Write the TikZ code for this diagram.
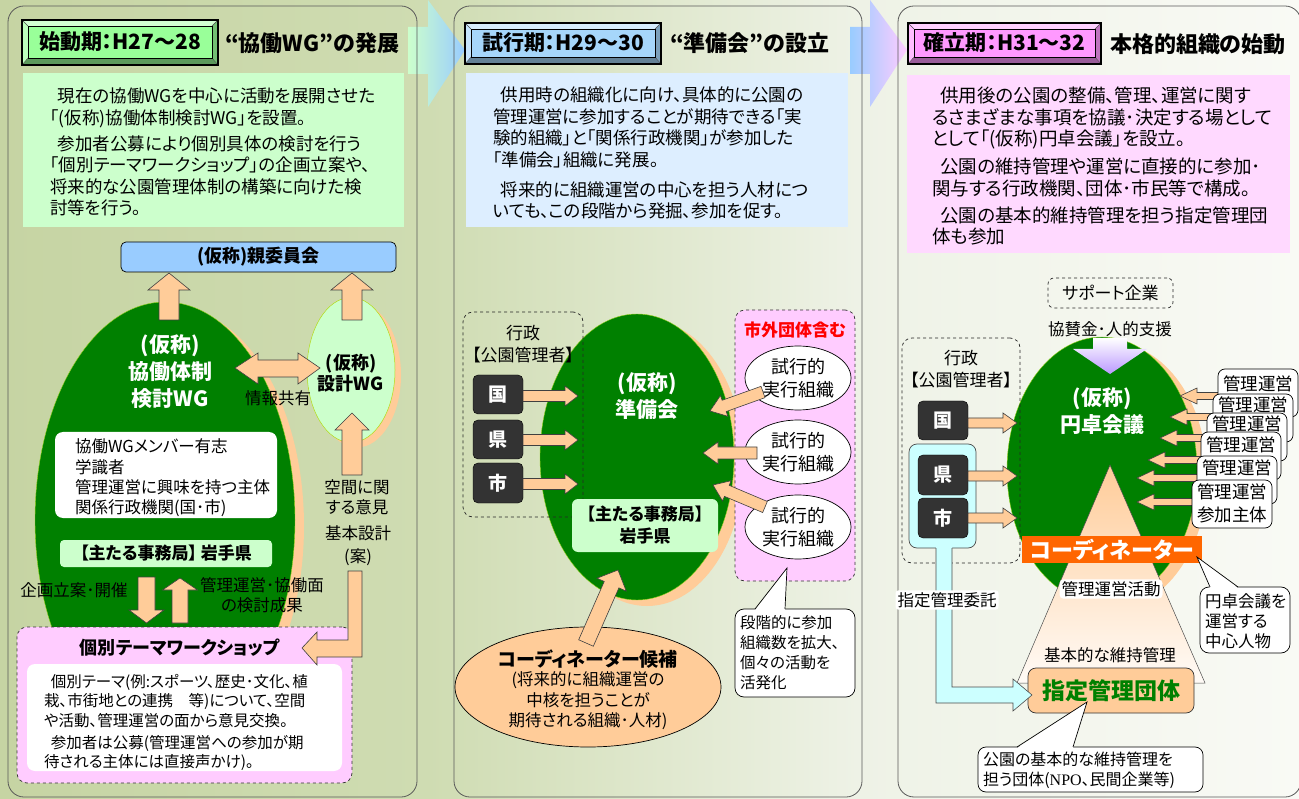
\documentclass[tikz,border=0pt]{standalone}
\usepackage{fontspec}
\setmainfont{Noto Sans CJK JP}[RawFeature=+palt]
\newfontfamily\npofont{Liberation Serif}
\usetikzlibrary{shapes.geometric}
\definecolor{dg}{HTML}{008000}
\definecolor{peach}{HTML}{FFCC99}
\definecolor{lg}{HTML}{CCFFCC}
\definecolor{lb}{HTML}{99CCFF}
\definecolor{pb}{HTML}{DDEEFF}
\definecolor{pk}{HTML}{FFCCFF}
\definecolor{pk2}{HTML}{FFD9FF}
\definecolor{dk}{HTML}{333333}
\definecolor{org}{HTML}{FF6600}
\definecolor{cy}{HTML}{CCFFFF}
\definecolor{vio}{HTML}{BB99FF}
\definecolor{hg}{HTML}{99FF99}
\definecolor{hb}{HTML}{A6D6FA}
\definecolor{hp}{HTML}{FF99FF}
\definecolor{bga}{RGB}{198,212,163}
\definecolor{bgb}{RGB}{207,220,178}
\definecolor{bgc}{RGB}{238,242,230}
\definecolor{bgd}{RGB}{249,250,245}
\pgfdeclarehorizontalshading{bgsh}{100bp}{color(0bp)=(bga); color(25bp)=(bga); color(41.5bp)=(bgb); color(58bp)=(bgc); color(75bp)=(bgd); color(100bp)=(bgd)}
\newcommand\fsz[2]{\fontsize{#1pt}{#2pt}\selectfont}
% block arrow: [style] x1 y1 x2 y2 shaft-halfwidth head-halfwidth head-length
\newcommand\barrow[8][]{%
 \pgfmathsetmacro\bdx{(#4)-(#2)}%
 \pgfmathsetmacro\bdy{(#5)-(#3)}%
 \pgfmathsetmacro\blen{veclen(\bdx,\bdy)}%
 \pgfmathsetmacro\bang{atan2(-\bdy,\bdx)}%
 \pgfmathsetmacro\bhb{\blen-(#8)}%
 \draw[pa,#1,shift={(#2,#3)},rotate=\bang] (0,-#6) -- (\bhb,-#6) -- (\bhb,-#7) -- (\blen,0) -- (\bhb,#7) -- (\bhb,#6) -- (0,#6) -- cycle;}
% header box: name x1 y1 x2 y2 colour text
\newcommand\hdr[7]{%
 \fill[#6!45!white] (#2,#3) rectangle (#4,#5);
 \fill[#6!60!black] (#2,#5) -- (#4,#5) -- (#4-6,#5-7) -- (#2+6,#5-7) -- cycle;
 \fill[#6!75!black] (#4,#3) -- (#4,#5) -- (#4-6,#5-7) -- (#4-6,#3+6) -- cycle;
 \fill[#6!65!white] (#2,#3) -- (#2+6,#3+6) -- (#2+6,#5-7) -- (#2,#5) -- cycle;
 \draw[black!70,line width=0.4pt] (#2,#3) -- (#2+6,#3+6) (#4,#3) -- (#4-6,#3+6) (#2,#5) -- (#2+6,#5-7) (#4,#5) -- (#4-6,#5-7);
 \draw[fill=#6,line width=0.6pt] (#2+6,#3+6) rectangle (#4-6,#5-7);
 \draw[line width=1.1pt] (#2,#3) rectangle (#4,#5);
 \node[font=\bfseries\fsz{21}{24}] (#1) at ({(#2+#4)/2},{(#3+#5)/2-0.5}) {#7};}
% callout pointer: x1 x2 ytop tipx tipy
\newcommand\cptr[5]{%
 \fill[white] (#1,#3+1.2) -- (#4,#5) -- (#2,#3+1.2) -- cycle;
 \draw[black,line width=0.7pt] (#1,#3) -- (#4,#5) -- (#2,#3);}
\begin{document}
\begin{tikzpicture}[x=1pt,y=-1pt,
 every node/.style={inner sep=0pt,outer sep=0pt},
 tb/.style={align=left,anchor=north west},
 pa/.style={fill=peach,draw=black!75,line width=0.6pt},
 wt/.style={text=white,font=\bfseries\fsz{21}{27},align=center},
 dkbox/.style={fill=dk,draw=black,rounded corners=5pt,minimum width=50pt,minimum height=39pt,text=white,font=\bfseries\fsz{19}{20}},
 dashbox/.style={draw=black!85,dashed,line width=0.7pt,rounded corners=10pt},
 panel/.style={draw=black!65,line width=0.8pt,rounded corners=16pt},
 mgbox/.style={fill=white,draw=black,line width=0.7pt,rounded corners=7pt,minimum width=80pt,minimum height=48pt},
 mgtxt/.style={font=\fsz{17.5}{23},align=center},
 callout/.style={fill=white,draw=black,line width=0.7pt,rounded corners=9pt},
 lab/.style={font=\fsz{16.5}{20},align=center}]
\useasboundingbox (0,0) rectangle (1299,799);
\shade[shading=bgsh] (0,0) rectangle (1299,799);
% arrows between phases
\shade[left color=lg,right color=lb] (408,27) -- (428,27) -- (428,0) -- (465,50) -- (428,107) -- (428,74) -- (408,74) -- cycle;
\shade[left color=lb,right color=pk] (850,27) -- (870,27) -- (870,0) -- (907,50) -- (870,107) -- (870,74) -- (850,74) -- cycle;
% panels
\draw[panel] (8,6) rectangle (417,797);
\draw[panel] (454,6) rectangle (862,797);
\draw[panel] (898,6) rectangle (1301,797);

% ================= panel 1
\hdr{h1}{22}{20}{218}{65}{hg}{始動期：H27～28}
\node[anchor=west,font=\bfseries\fsz{22}{24}] (t1) at (225,43) {“協働WG”の発展};
\node[fill=lg,minimum width=381pt,minimum height=154pt] (d1) at (213.5,150) {};
\node[tb,font=\fsz{17.5}{21.5}] (d1t) at (50,88) {\hspace*{0.45em}現在の協働WGを中心に活動を展開させた\\「(仮称)協働体制検討WG」を設置。\\[4.5pt]\hspace*{0.45em}参加者公募により個別具体の検討を行う\\「個別テーマワークショップ」の企画立案や、\\将来的な公園管理体制の構築に向けた検\\討等を行う。};
\node[fill=lb,draw=black,line width=0.7pt,rounded corners=5pt,minimum width=275pt,minimum height=30pt,font=\bfseries\fsz{18}{20}] (oya) at (258.5,257) {(仮称)親委員会};
\node[ellipse,fill=peach,minimum width=260pt,minimum height=436pt] (k1s) at (174,526) {};
\node[ellipse,fill=dg,draw=yellow!60!green,line width=0.4pt,minimum width=260pt,minimum height=436pt] (k1) at (165,520) {};
\node[wt] (k1t) at (170,372) {(仮称)\\協働体制\\検討WG};
\node[ellipse,fill=peach,minimum width=88pt,minimum height=145pt] (sks) at (357,375) {};
\node[ellipse,fill=lg,draw=yellow!70!green,line width=0.5pt,minimum width=88pt,minimum height=145pt] (sk) at (351,370) {};
\node[font=\bfseries\fsz{18}{21},align=center] (skt) at (351,373) {(仮称)\\設計WG};
\barrow{169}{320}{169}{273}{10}{21}{17}
\barrow{352}{320}{352}{273}{10}{21}{17}
\barrow{352}{475}{352}{413}{10}{17}{17}
\draw[pa] (235,368) -- (258,353) -- (258,360) -- (298,360) -- (298,353) -- (320,368) -- (298,384) -- (298,377) -- (258,377) -- (258,384) -- cycle;
\node[lab] (jk) at (278,398) {情報共有};
\node[fill=white,rounded corners=8pt,minimum width=222pt,minimum height=86pt] (mem) at (166,475) {};
\node[tb,font=\fsz{16.5}{20.3}] (memt) at (75,439) {協働WGメンバー有志\\学識者\\管理運営に興味を持つ主体\\関係行政機関(国･市)};
\node[fill=lg,rounded corners=4pt,minimum width=212pt,minimum height=27pt,font=\bfseries\fsz{17}{20}] (jm1) at (166,553.5) {【主たる事務局】 岩手県};
\barrow{146.5}{577}{146.5}{623}{8.5}{17.5}{13}
\barrow{180}{623}{180}{578}{8}{17.5}{12}
\node[lab] (kk) at (74,590) {企画立案･開催};
\node[lab] (ks) at (262,595) {管理運営･協働面\\の検討成果};
\node[lab] (ki) at (357,497) {空間に関\\する意見};
\node[font=\fsz{16.5}{23},align=center] (kb) at (358,546) {基本設計\\(案)};
\node[fill=pk,draw=black!80,dashed,line width=0.7pt,rounded corners=10pt,minimum width=335pt,minimum height=156pt] (ws) at (184.5,705) {};
\node[font=\bfseries\fsz{18}{20}] (wst) at (180,648) {個別テーマワークショップ};
\node[fill=white,rounded corners=8pt,minimum width=315pt,minimum height=107pt] (wsi) at (184.5,717.5) {};
\node[tb,font=\fsz{15.5}{19.5}] (wsit) at (44,674) {\hspace*{0.45em}個別テーマ(例:スポーツ、歴史･文化、植\\栽、市街地との連携　等)について、空間\\や活動、管理運営の面から意見交換。\\[2.5pt]\hspace*{0.45em}参加者は公募(管理運営への参加が期\\待される主体には直接声かけ)。};
\draw[pa] (348,571) -- (362,571) -- (362,657) -- (317,657) -- (317,665) -- (302,648) -- (317,632) -- (317,640) -- (348,640) -- cycle;

% ================= panel 2
\hdr{h2}{465}{23}{661}{64}{hb}{試行期：H29～30}
\node[anchor=west,font=\bfseries\fsz{22}{24}] (t2) at (670,43) {“準備会”の設立};
\node[fill=pb,minimum width=382pt,minimum height=154pt] (d2) at (657,150) {};
\node[tb,font=\fsz{17.5}{21.5}] (d2t) at (493,87) {\hspace*{0.45em}供用時の組織化に向け、具体的に公園の\\管理運営に参加することが期待できる「実\\験的組織」と「関係行政機関」が参加した\\「準備会」組織に発展。\\[8.5pt]\hspace*{0.45em}将来的に組織運営の中心を担う人材につ\\いても、この段階から発掘、参加を促す。};
\node[ellipse,fill=peach,minimum width=194pt,minimum height=286pt] (jbs) at (647,463) {};
\node[ellipse,fill=dg,draw=yellow!60!green,line width=0.4pt,minimum width=194pt,minimum height=286pt] (jb) at (637,457) {};
\node[wt] (jbt) at (647,396.5) {(仮称)\\準備会};
\node[dashbox,minimum width=120pt,minimum height=205pt] (g2) at (523,414.5) {};
\node[font=\fsz{17}{22},align=center] (g2t) at (523,344.5) {行政\\【公園管理者】};
\node[dkbox] (koku2) at (498,394.5) {国};
\node[dkbox] (ken2) at (498,439.5) {県};
\node[dkbox,minimum height=40pt] (shi2) at (498,483) {市};
\barrow{523}{396}{578}{396}{5.5}{10}{13}
\barrow{523}{440}{578}{440}{5.5}{10}{13}
\barrow{523}{484}{578}{484}{5.5}{10}{13}
\node[fill=lg,rounded corners=6pt,minimum width=146pt,minimum height=53pt,font=\bfseries\fsz{17}{22},align=center] (jm2) at (645,525.5) {【主たる事務局】\\岩手県};
\node[fill=pk,draw=black!80,dashed,line width=0.7pt,rounded corners=10pt,minimum width=120pt,minimum height=271pt] (gb) at (795,445.5) {};
\node[text=red,font=\bfseries\fsz{17}{20}] (gbt) at (795,330) {市外団体含む};
\node[ellipse,fill=white,draw=black,line width=0.7pt,minimum width=106pt,minimum height=64pt,font=\fsz{18}{23},align=center] (tr1) at (798,378) {試行的\\実行組織};
\node[ellipse,fill=white,draw=black,line width=0.7pt,minimum width=106pt,minimum height=64pt,font=\fsz{18}{23},align=center] (tr2) at (798,452) {試行的\\実行組織};
\node[ellipse,fill=white,draw=black,line width=0.7pt,minimum width=106pt,minimum height=64pt,font=\fsz{18}{23},align=center] (tr3) at (798,527) {試行的\\実行組織};
\barrow{763}{392}{710}{411}{6}{11}{15}
\barrow{757}{453}{703}{453}{6}{11}{15}
\barrow{765}{507}{713}{485}{6}{11}{15}
\node[callout,minimum width=120pt,minimum height=88pt] (c2) at (795,653) {};
\cptr{755}{785}{609}{787}{568}
\node[tb,font=\fsz{15.5}{20}] (c2t) at (740,615) {段階的に参加\\組織数を拡大、\\個々の活動を\\活発化};
\node[ellipse,fill=peach,draw=black,line width=0.7pt,minimum width=266pt,minimum height=120pt] (cc) at (588,687) {};
\barrow{586}{643}{618}{570}{8}{16}{16}
\node[font=\bfseries\fsz{19}{22}] (cct) at (588,659) {コーディネーター候補};
\node[font=\fsz{16.5}{20.5},align=center] (ccs) at (588,701) {(将来的に組織運営の\\中核を担うことが\\期待される組織･人材)};

% ================= panel 3
\hdr{h3}{908}{23}{1101}{64}{hp}{確立期：H31～32}
\node[anchor=west,font=\bfseries\fsz{22}{24}] (t3) at (1110,44) {本格的組織の始動};
\node[fill=pk2,minimum width=383pt,minimum height=178pt] (d3) at (1098.5,164) {};
\node[tb,font=\fsz{18.5}{21.5}] (d3t) at (932,87) {\hspace*{0.45em}供用後の公園の整備、管理、運営に関す\\るさまざまな事項を協議･決定する場として\\として「(仮称)円卓会議」を設立。\\[6.5pt]\hspace*{0.45em}公園の維持管理や運営に直接的に参加･\\関与する行政機関、団体･市民等で構成。\\[5.5pt]\hspace*{0.45em}公園の基本的維持管理を担う指定管理団\\体も参加};
\node[dashbox,rounded corners=6pt,minimum width=125pt,minimum height=30pt,font=\fsz{17}{20}] (sup) at (1110.5,293) {サポート企業};
\node[lab] (supt) at (1110,329) {協賛金･人的支援};
\node[ellipse,fill=peach,minimum width=190pt,minimum height=266pt] (ens) at (1112,476) {};
\node[ellipse,fill=dg,draw=yellow!60!green,line width=0.4pt,minimum width=190pt,minimum height=266pt] (en) at (1102,470) {};
\shade[top color=white,bottom color=vio] (1093,338) -- (1127,338) -- (1127,349) -- (1147,349) -- (1110,374) -- (1073,349) -- (1093,349) -- cycle;
\node[wt] (ent) at (1102,411) {(仮称)\\円卓会議};
\node[dashbox,minimum width=118pt,minimum height=225pt] (g3) at (961,450.5) {};
\node[font=\fsz{17}{22},align=center] (g3t) at (961,369.5) {行政\\【公園管理者】};
\node[fill=cy,draw=black!70,line width=0.7pt,rounded corners=8pt,minimum width=67pt,minimum height=104pt] (cyb) at (942.5,496) {};
\node[dkbox] (koku3) at (943,420.5) {国};
\node[dkbox,minimum height=40pt] (ken3) at (943,475) {県};
\node[dkbox,minimum height=40pt] (shi3) at (943,518) {市};
\barrow{968}{423}{1017}{423}{5}{10}{14}
\barrow{968}{476}{1017}{476}{5}{10}{14}
\barrow{968}{518}{1017}{518}{5}{10}{14}
\shadedraw[top color=peach,bottom color=peach!8!white,draw=black!70,line width=0.5pt] (1110,465) -- (1205,683) -- (1017,683) -- cycle;
\node[fill=org,minimum width=180pt,minimum height=27pt,text=white,font=\bfseries\fsz{22}{24}] (co) at (1112,549.5) {コーディネーター};
\node[fill=white,rounded corners=4pt,inner sep=2pt,font=\fsz{16.5}{19}] (kua) at (1111,589) {管理運営活動};
\node[font=\fsz{16.5}{19}] (kih) at (1110,655) {基本的な維持管理};
\node[fill=peach,draw=black!80,line width=0.7pt,rounded corners=8pt,minimum width=166pt,minimum height=45pt,text=dg,font=\bfseries\fsz{23}{25}] (sh) at (1111,690.5) {指定管理団体};
\fill[cy] (936,546) -- (952,546) -- (952,687) -- (1013,687) -- (1013,679) -- (1032,695) -- (1013,711) -- (1013,703) -- (936,703) -- cycle;
\draw[black!70,line width=0.6pt] (952,548) -- (952,687) -- (1013,687) -- (1013,679) -- (1032,695) -- (1013,711) -- (1013,703) -- (936,703) -- (936,548);
\node[fill=white,rounded corners=3pt,inner sep=2pt,font=\fsz{16.5}{19}] (sit) at (947,600) {指定管理委託};
\node[callout,minimum width=90pt,minimum height=66pt] (c3a) at (1245,620) {};
\cptr{1210}{1238}{587}{1197}{557}
\node[tb,font=\fsz{16.5}{20}] (c3at) at (1205,594) {円卓会議を\\運営する\\中心人物};
\node[callout,rounded corners=8pt,minimum width=225pt,minimum height=45pt] (c3b) at (1090.5,769.5) {};
\cptr{1017}{1073}{747}{1087}{702}
\node[tb,font=\fsz{16}{20}] (c3bt) at (983,752) {公園の基本的な維持管理を\\担う団体({\npofont NPO}、民間企業等)};
\barrow{1225}{396}{1180}{396}{3.5}{8}{17}
\barrow{1220}{417}{1170}{417}{3.5}{8}{17}
\barrow{1215}{438}{1160}{438}{3.5}{8}{17}
\barrow{1210}{460}{1148}{460}{3.5}{8}{17}
\barrow{1205}{478}{1137}{478}{3.5}{8}{17}
\barrow{1200}{502}{1137}{502}{3.5}{8}{17}
\node[mgbox] (m1) at (1258,393) {};
\node[mgtxt] (m1t) at (1258,384) {管理運営};
\node[mgbox] (m2) at (1253,418) {};
\node[mgtxt] (m2t) at (1253,405) {管理運営};
\node[mgbox] (m3) at (1247,437) {};
\node[mgtxt] (m3t) at (1247,424) {管理運営};
\node[mgbox] (m4) at (1241,456) {};
\node[mgtxt] (m4t) at (1241,445) {管理運営};
\node[mgbox] (m5) at (1237,480) {};
\node[mgtxt] (m5t) at (1237,468) {管理運営};
\node[mgbox] (m6) at (1232,504) {};
\node[mgtxt] (m6t) at (1232,503.5) {管理運営\\参加主体};
\end{tikzpicture}
\end{document}
